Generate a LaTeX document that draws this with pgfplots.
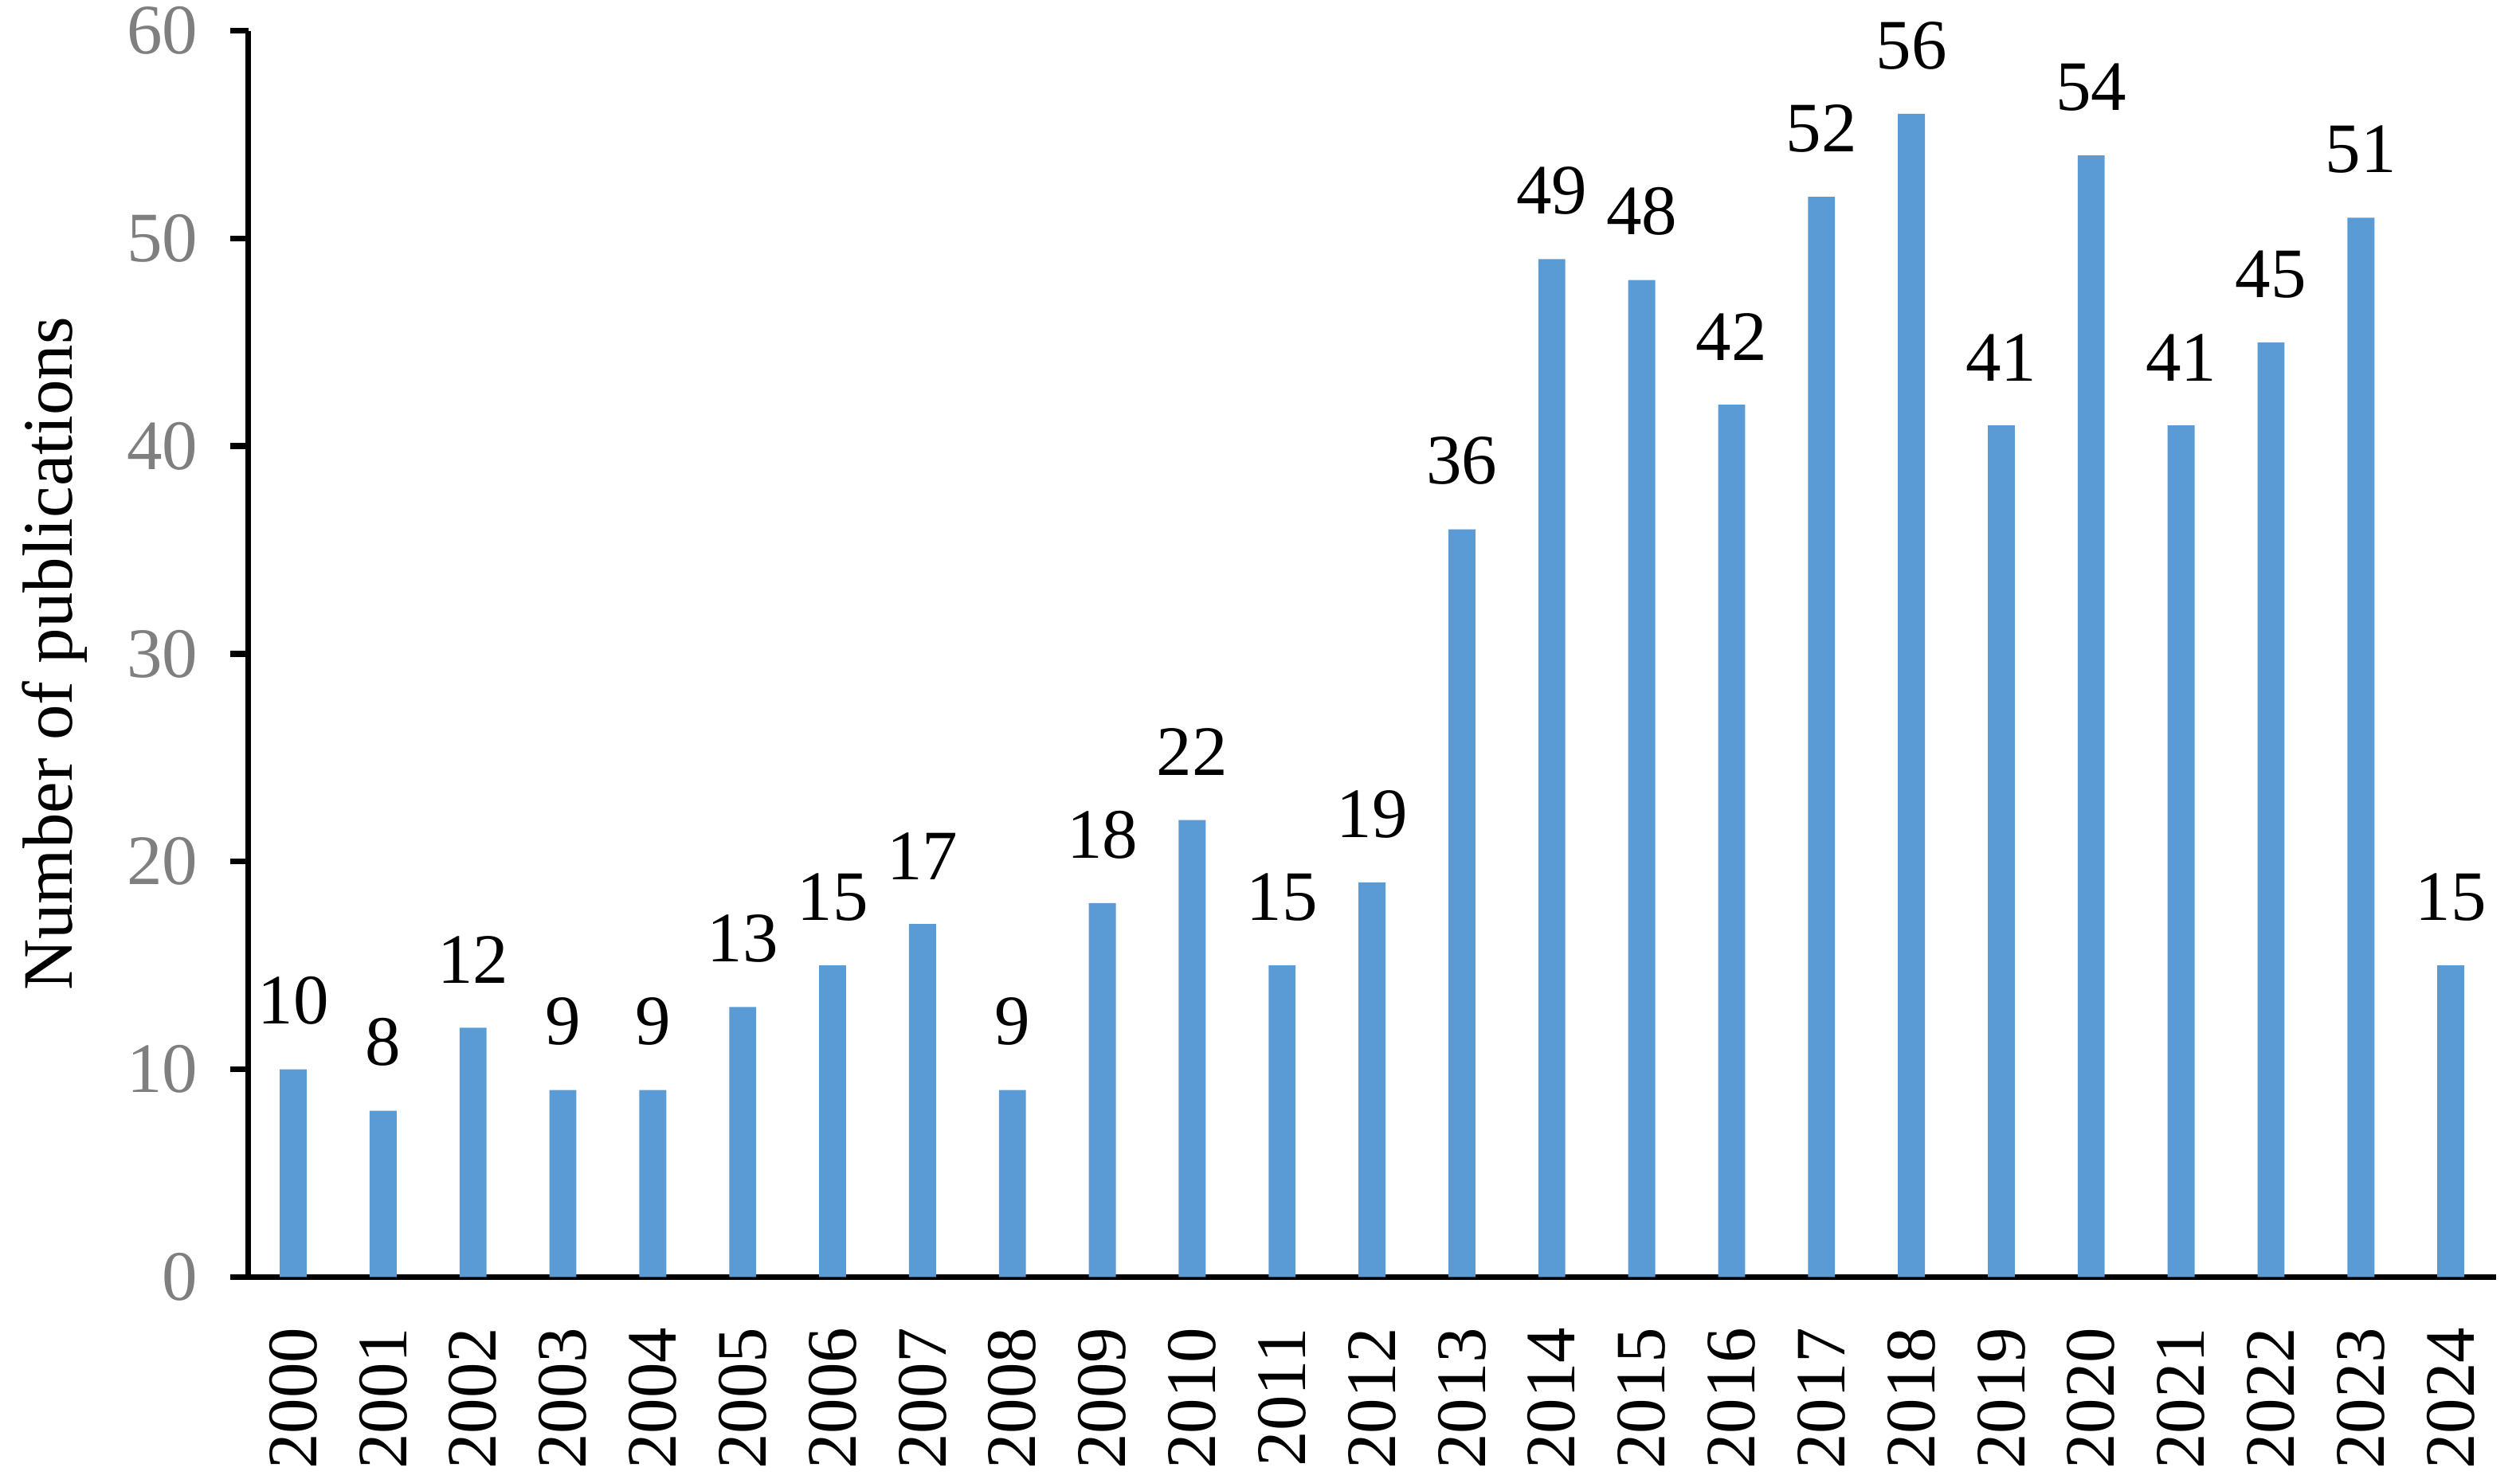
\documentclass[border=0pt]{standalone}
\usepackage{fontspec}
\setmainfont{Liberation Serif}
\usepackage{pgfplots}
\pgfplotsset{compat=1.18}
\definecolor{barblue}{HTML}{5B9BD5}
\definecolor{tickgray}{HTML}{7F7F7F}
\begin{document}
\begin{tikzpicture}
\begin{axis}[
  scale only axis,
  width=380.2pt, height=210.9pt,
  at={(0,0)}, anchor=south west,
  font=\fontsize{12}{14}\selectfont,
  /pgf/number format/assume math mode=true,
  axis lines=left,
  axis line style={-, line width=1pt, black},
  ymin=0, ymax=60, ytick={0,10,...,60},
  xmin=-0.5, xmax=24.5,
  xtick=data,
  xticklabels={2000,2001,2002,2003,2004,2005,2006,2007,2008,2009,2010,2011,2012,2013,2014,2015,2016,2017,2018,2019,2020,2021,2022,2023,2024},
  x tick label style={rotate=90, anchor=east, yshift=0pt, xshift=-2pt, black},
  y tick label style={color=tickgray, xshift=-2pt},
  tick align=outside,
  xtick style={draw=none},
  ytick style={line width=1pt, black},
  major tick length=3pt,
  ylabel={Number of publications},
  ylabel style={at={(axis description cs:-0.086,0.5)}, anchor=center, black},
  ybar, bar width=0.3,
  nodes near coords,
  every node near coord/.append style={black, yshift=4pt, font=\fontsize{12}{14}\selectfont},
]
\addplot[fill=barblue, draw=none] coordinates {
(0,10) (1,8) (2,12) (3,9) (4,9) (5,13) (6,15) (7,17) (8,9) (9,18)
(10,22) (11,15) (12,19) (13,36) (14,49) (15,48) (16,42) (17,52) (18,56) (19,41)
(20,54) (21,41) (22,45) (23,51) (24,15)};
\end{axis}
\pgfresetboundingbox
\useasboundingbox (-42.0pt,-34.8pt) rectangle (384.3pt,216.1pt);
\end{tikzpicture}
\end{document}
